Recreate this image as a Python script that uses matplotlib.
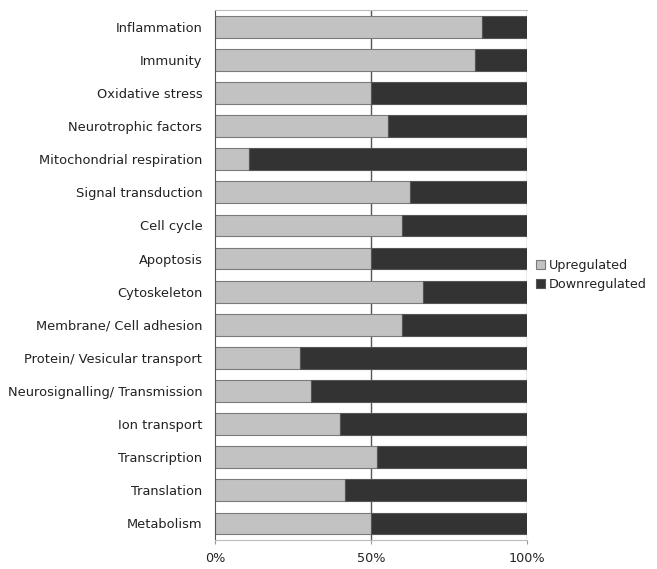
import matplotlib
matplotlib.use("Agg")
import matplotlib.pyplot as plt
from matplotlib.ticker import PercentFormatter

plt.rcParams['font.family'] = ['DejaVu Sans']

# top to bottom as in the figure
categories = [
    "Inflammation", "Immunity", "Oxidative stress", "Neurotrophic factors",
    "Mitochondrial respiration", "Signal transduction", "Cell cycle", "Apoptosis",
    "Cytoskeleton", "Membrane/ Cell adhesion", "Protein/ Vesicular transport",
    "Neurosignalling/ Transmission", "Ion transport", "Transcription",
    "Translation", "Metabolism",
]
upregulated = [85.7, 83.3, 50.0, 55.6, 11.1, 62.5, 60.0, 50.0,
               66.7, 60.0, 27.3, 30.8, 40.0, 52.0, 41.7, 50.0]
downregulated = [100 - u for u in upregulated]

fig = plt.figure(figsize=(6.57, 5.69), dpi=100)
ax = fig.add_axes([0.327, 0.051, 0.475, 0.931])

y = list(range(len(categories)))
ax.barh(y, upregulated, height=0.66, color="#c2c2c2", edgecolor="#7a7a7a",
        linewidth=0.8, label="Upregulated", zorder=2)
ax.barh(y, downregulated, left=upregulated, height=0.66, color="#333333",
        edgecolor="#555555", linewidth=0.8, label="Downregulated", zorder=2)

ax.axvline(50, color="#555555", linewidth=1, zorder=1)
ax.axvline(100, color="#999999", linewidth=1, zorder=1)

ax.set_xlim(0, 100)
ax.set_ylim(len(categories) - 0.5, -0.5)
ax.set_yticks(y)
ax.set_yticklabels(categories, fontsize=9.4, color="#222222")
ax.set_xticks([0, 50, 100])
ax.xaxis.set_major_formatter(PercentFormatter(decimals=0))
ax.tick_params(axis="x", length=3, direction="out", color="#999999", pad=6,
               labelsize=9.2, labelcolor="#222222")
ax.tick_params(axis="y", length=0, pad=9)

for side in ["top", "bottom", "right"]:
    ax.spines[side].set_color("#bbbbbb")
ax.spines["right"].set_visible(False)
ax.spines["left"].set_color("#555555")

ax.legend(loc="center left", bbox_to_anchor=(1.0, 0.5), frameon=False,
          fontsize=9.2, handlelength=0.7, handleheight=0.7, handletextpad=0.3,
          labelspacing=0.45, borderaxespad=0.3, labelcolor="#222222")

fig.savefig("out.png", dpi=100)
